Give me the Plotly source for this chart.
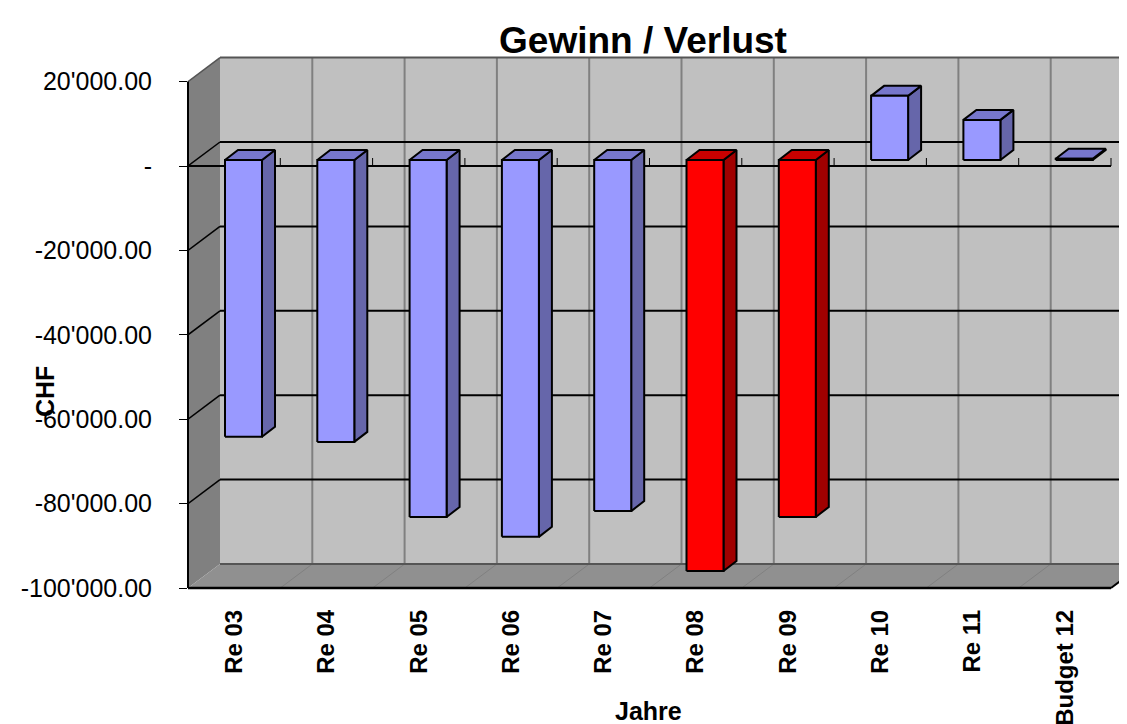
import plotly.graph_objects as go

categories = ["Re 03", "Re 04", "Re 05", "Re 06", "Re 07", "Re 08", "Re 09", "Re 10", "Re 11", "Budget 12"]
values = [-65600, -66800, -84600, -89300, -83200, -97400, -84600, 15200, 9500, 300]
is_loss_year = [False, False, False, False, False, True, True, False, False, False]
y_ticks = [20000, 0, -20000, -40000, -60000, -80000, -100000]
y_labels = ["20'000.00", "-", "-20'000.00", "-40'000.00", "-60'000.00", "-80'000.00", "-100'000.00"]

# pixel geometry of the oblique projection
PX_X = 92.3            # px per category
PX_Y = 84.4 / 20000    # px per CHF
N = len(categories)
WALL_DX, WALL_DY = 32 / PX_X, 24 / PX_Y
BAR_DX, BAR_DY = 13 / PX_X, 10 / PX_Y
BAR_SHIFT_Y = 6 / PX_Y
BAR_OFF, BAR_W = 37 / PX_X, 37 / PX_X
YMIN, YMAX = -100000, 20000
FONT = "Liberation Sans, Arial, sans-serif"

L, R_PX, T, B = 180, 1127, 40, 590
x_range = [0, (R_PX - L) / PX_X]
y_range = [-(B - 158) / PX_Y, (158 - T) / PX_Y]

fig = go.Figure()


def poly(xs, ys, fill, line="rgba(0,0,0,0)", width=0):
    fig.add_trace(go.Scatter(x=xs + xs[:1], y=ys + ys[:1], mode="lines", fill="toself", fillcolor=fill,
                             line=dict(color=line, width=width, simplify=False), hoverinfo="skip", showlegend=False))


def seg(xs, ys, color, width):
    fig.add_trace(go.Scatter(x=xs, y=ys, mode="lines", line=dict(color=color, width=width, simplify=False),
                             hoverinfo="skip", showlegend=False))


# walls and floor
poly([0, WALL_DX, WALL_DX, 0], [YMIN, YMIN + WALL_DY, YMAX + WALL_DY, YMAX], "#808080")
poly([WALL_DX, N + WALL_DX, N + WALL_DX, WALL_DX], [YMIN + WALL_DY, YMIN + WALL_DY, YMAX + WALL_DY, YMAX + WALL_DY], "#C0C0C0")
poly([0, N, N + WALL_DX, WALL_DX], [YMIN, YMIN, YMIN + WALL_DY, YMIN + WALL_DY], "#909090")

# vertical grid on back wall and slants on floor
for i in range(1, N):
    seg([i + WALL_DX, i + WALL_DX], [YMIN + WALL_DY, YMAX + WALL_DY], "#808080", 2)
    seg([i, i + WALL_DX], [YMIN, YMIN + WALL_DY], "#808080", 1)

# horizontal grid
for t in y_ticks:
    edge = t in (YMIN, YMAX)
    col = "#555555" if edge else "#000000"
    seg([WALL_DX, N + WALL_DX], [t + WALL_DY, t + WALL_DY], col, 2)
    if t != YMIN:
        seg([0, WALL_DX], [t, t + WALL_DY], col if edge else "#000000", 1.5)

# zero axis and its ticks
seg([0, N], [0, 0], "#000000", 2)
for i in range(1, N + 1):
    seg([i, i], [0, 8 / PX_Y], "#000000", 1)
# bottom edge
seg([0, N], [YMIN, YMIN], "#000000", 2.5)
seg([N, N + WALL_DX], [YMIN, YMIN + WALL_DY], "#000000", 2)

# bars
for i, v in enumerate(values):
    x0 = i + BAR_OFF
    x1 = x0 + BAR_W
    y_hi = BAR_SHIFT_Y + max(v, 0)
    y_lo = BAR_SHIFT_Y + min(v, 0)
    front, side, top = ("#FF0000", "#A00000", "#C80000") if is_loss_year[i] else ("#9999FF", "#6666AA", "#7777CC")
    poly([x1, x1 + BAR_DX, x1 + BAR_DX, x1], [y_lo, y_lo + BAR_DY, y_hi + BAR_DY, y_hi], side, "#000000", 2)
    poly([x0, x1, x1 + BAR_DX, x0 + BAR_DX], [y_hi, y_hi, y_hi + BAR_DY, y_hi + BAR_DY], top, "#000000", 2)
    poly([x0, x1, x1, x0], [y_lo, y_lo, y_hi, y_hi], front, "#000000", 2)

fig.update_layout(
    width=1127, height=724,
    margin=dict(l=L, r=1127 - R_PX, t=T, b=724 - B, autoexpand=False),
    paper_bgcolor="white", plot_bgcolor="white",
    showlegend=False,
    font=dict(family=FONT, color="black"),
    title=dict(text="<b>Gewinn / Verlust</b>", x=635 / 1127, xref="paper" if False else "container", xanchor="center",
               y=1 - 32 / 724, yanchor="middle", font=dict(size=37, family=FONT, color="black")),
    xaxis=dict(range=x_range, showgrid=False, zeroline=False, showline=False, ticks="",
               tickmode="array", tickvals=[i + 0.5 for i in range(N)], ticktext=[f"<b>{c}</b>" for c in categories],
               tickangle=-90, tickfont=dict(size=24, family=FONT, color="black"), ticklabelstandoff=6,
               automargin=False, fixedrange=True),
    yaxis=dict(range=y_range, showgrid=False, zeroline=False, showline=False, ticks="outside", ticklen=8,
               tickwidth=1, tickcolor="black", tickmode="array", tickvals=y_ticks, ticktext=y_labels,
               tickfont=dict(size=25, family=FONT, color="black"), ticklabelstandoff=22,
               automargin=False, fixedrange=True),
    shapes=[dict(type="line", xref="paper", x0=0, x1=0, yref="y", y0=YMAX, y1=YMIN,
                 line=dict(color="black", width=2), layer="above")],
    annotations=[
        dict(text="<b>Jahre</b>", xref="paper", yref="paper", x=(640 - L) / (R_PX - L), y=-(703 - B) / (B - T),
             xanchor="center", yanchor="middle", showarrow=False, font=dict(size=25, family=FONT, color="black")),
        dict(text="<b>CHF</b>", xref="paper", yref="paper", x=(37 - L) / (R_PX - L), y=(B - 384) / (B - T),
             xanchor="center", yanchor="middle", textangle=-90, showarrow=False,
             font=dict(size=25, family=FONT, color="black")),
    ],
)

fig.write_html("out.html", config={"displayModeBar": False})
